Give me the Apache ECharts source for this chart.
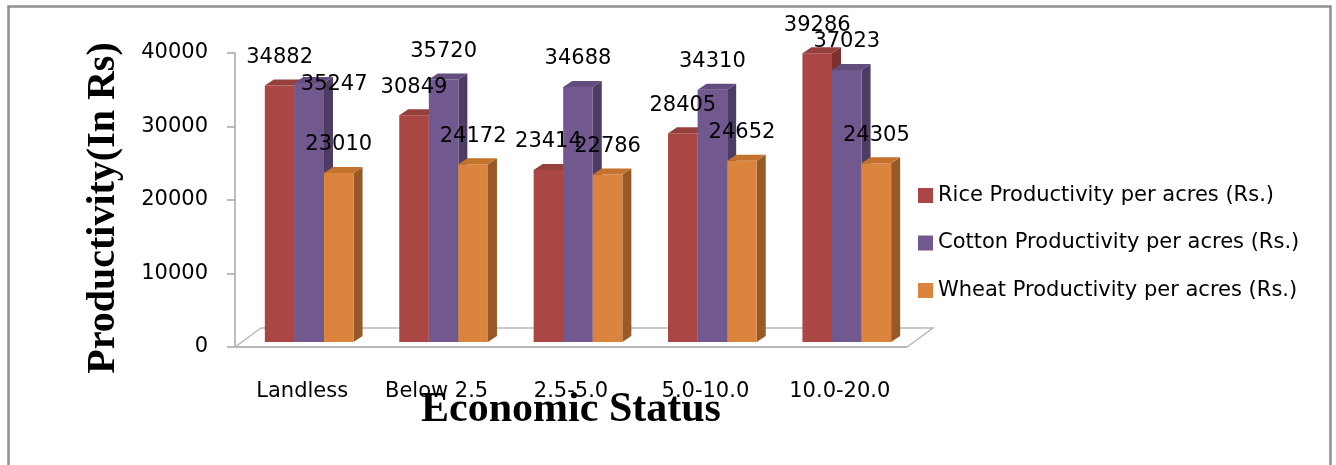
<!DOCTYPE html>
<html>
<head>
<meta charset="utf-8">
<script src="https://cdn.jsdelivr.net/npm/echarts@6/dist/echarts.min.js"></script>
<style>
html, body { margin: 0; padding: 0; background: #fff; }
#chart { width: 1336px; height: 465px; }
</style>
</head>
<body>
<div id="chart"></div>
<script>
const categories = ["Landless", "Below 2.5", "2.5-5.0", "5.0-10.0", "10.0-20.0"];
const riceValues = [34882, 30849, 23414, 28405, 39286];
const cottonValues = [35247, 35720, 34688, 34310, 37023];
const wheatValues = [23010, 24172, 22786, 24652, 24305];
const seriesNames = ["Rice Productivity per acres (Rs.)", "Cotton Productivity per acres (Rs.)", "Wheat Productivity per acres (Rs.)"];
const yTicks = [0, 10000, 20000, 30000, 40000];

const FONT = "DejaVu Sans";
const shades = [
  { front: "#AA4643", side: "#7d302e", top: "#96403d" },
  { front: "#71588F", side: "#4d3c63", top: "#624d7e" },
  { front: "#DB843D", side: "#975a26", top: "#c4732f" },
];
// fake 3d: bar depth, floor depth, how far the bar plane sits behind the front edge
const DEPTH_X = 9, DEPTH_Y = -6;
const FLOOR_X = 26, FLOOR_Y = -19;
const BAR_RATIO = 0.22, SHIFT_RATIO = 0.052, LIFT = -5;
// the one label that was dragged aside in the original
const labelNudge = { "1:0": [25, 30] };

const chart = echarts.init(document.getElementById("chart"));

function barRenderer(k) {
  return function (params, api) {
    const i = api.value(0), v = api.value(1);
    const band = api.size([1, 0])[0];
    const base = api.coord([i, 0]);
    const tip = api.coord([i, v]);
    const bw = band * BAR_RATIO;
    const x = base[0] + band * SHIFT_RATIO - 1.5 * bw + k * bw;
    const yBot = base[1] + LIFT, yTop = tip[1] + LIFT;
    const c = shades[k];
    const nudge = labelNudge[k + ":" + i] || [0, 0];
    return {
      type: "group",
      children: [
        { type: "polygon", shape: { points: [[x + bw, yTop], [x + bw + DEPTH_X, yTop + DEPTH_Y], [x + bw + DEPTH_X, yBot + DEPTH_Y], [x + bw, yBot]] }, style: { fill: c.side } },
        { type: "rect", shape: { x: x, y: yTop, width: bw, height: yBot - yTop }, style: { fill: c.front } },
        { type: "polygon", shape: { points: [[x, yTop], [x + DEPTH_X, yTop + DEPTH_Y], [x + bw + DEPTH_X, yTop + DEPTH_Y], [x + bw, yTop]] }, style: { fill: c.top } },
        { type: "text", z2: 100, style: { text: String(v), x: x + bw / 2 + nudge[0], y: yTop - 28 + nudge[1], align: "center", verticalAlign: "middle", fontFamily: FONT, fontSize: 21, fill: "#000" } },
      ],
    };
  };
}

const valueSets = [riceValues, cottonValues, wheatValues];

chart.setOption({
  animation: false,
  graphic: [{ type: "rect", silent: true, shape: { x: 8.5, y: 6.5, width: 1322, height: 480 }, style: { fill: "none", stroke: "#8f8f8f", lineWidth: 2.5 } }],
  legend: {
    orient: "vertical", left: 913, top: 180, itemWidth: 15, itemHeight: 15, itemGap: 26.5,
    icon: "rect", selectedMode: false, data: seriesNames,
    textStyle: { fontFamily: FONT, fontSize: 21, lineHeight: 21, color: "#000" },
  },
  grid: { left: 235, right: 429, top: 53, bottom: 118 },
  xAxis: {
    type: "category", data: categories,
    axisLine: { lineStyle: { color: "#a6a6a6", width: 1.5 } },
    axisTick: { length: 6, lineStyle: { color: "#a6a6a6", width: 1.5 } },
    axisLabel: { margin: 34, fontFamily: FONT, fontSize: 21, color: "#000" },
    name: "Economic Status", nameLocation: "middle", nameGap: 42, nameMoveOverlap: false,
    nameTextStyle: { fontFamily: "Liberation Serif", fontWeight: "bold", fontSize: 42, color: "#000" },
  },
  yAxis: {
    type: "value", min: yTicks[0], max: yTicks[yTicks.length - 1], interval: yTicks[1] - yTicks[0],
    axisLine: { show: true, lineStyle: { color: "#a6a6a6", width: 1.5 } },
    axisTick: { show: true, length: 8, lineStyle: { color: "#a6a6a6", width: 1.5 } },
    splitLine: { show: false },
    axisLabel: { margin: 27, fontFamily: FONT, fontSize: 21, color: "#000", formatter: (v) => String(v) },
    name: "Productivity(In Rs)", nameLocation: "middle", nameRotate: 90, nameGap: 111, nameMoveOverlap: false,
    nameTextStyle: { fontFamily: "Liberation Serif", fontWeight: "bold", fontSize: 40, color: "#000", padding: [0, 16, 0, 0] },
  },
  series: [
    {
      type: "custom", name: "floor", z: 1, silent: true, data: [[0, 0]],
      renderItem: (params) => {
        const cs = params.coordSys;
        const x0 = cs.x, x1 = cs.x + cs.width, y = cs.y + cs.height;
        return { type: "polygon", shape: { points: [[x0, y], [x0 + FLOOR_X, y + FLOOR_Y], [x1 + FLOOR_X, y + FLOOR_Y], [x1, y]] }, style: { fill: "none", stroke: "#b8b8b8", lineWidth: 1.5 } };
      },
    },
    ...valueSets.map((vals, k) => ({
      type: "custom", name: seriesNames[k], silent: true,
      itemStyle: { color: shades[k].front },
      data: vals.map((v, i) => [i, v]),
      renderItem: barRenderer(k),
    })),
  ],
});
</script>
</body>
</html>
